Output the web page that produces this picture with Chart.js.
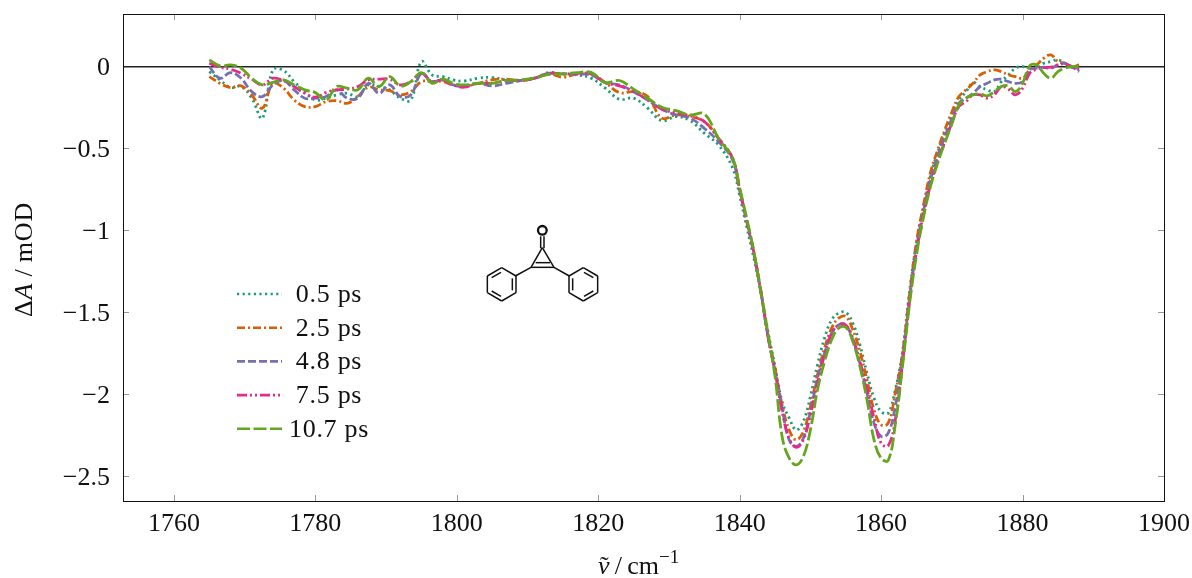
<!DOCTYPE html>
<html>
<head>
<meta charset="utf-8">
<title>Delta A spectra</title>
<script src="https://cdn.jsdelivr.net/npm/chart.js@4/dist/chart.umd.min.js"></script>
<style>
html, body { margin: 0; padding: 0; background: #fff; }
canvas { display: block; }
</style>
</head>
<body>
<canvas id="spectra" width="1192" height="578"></canvas>
<script>
const wavenumbers = [
    1765, 1766.5, 1768, 1769.5, 1771, 1772.5, 1774, 1775.5, 1777, 1778.5, 1780, 1781.5,
    1783, 1784.5, 1786, 1787.5, 1789, 1790.5, 1792, 1793.5, 1795, 1796.5, 1798, 1799.5,
    1801, 1803, 1805, 1807, 1809, 1811, 1813, 1815, 1817, 1819, 1821, 1823, 1825, 1827, 1829, 1831, 1833, 1835, 1837, 1839,
    1840, 1841, 1842,
    1843, 1844, 1845, 1846, 1847, 1848, 1849, 1850, 1851, 1852, 1853, 1854, 1855, 1856, 1857, 1858, 1859, 1860, 1861, 1862, 1863, 1864,
    1865, 1866, 1867, 1868, 1869, 1870,
    1871, 1872, 1873, 1874, 1875, 1876, 1877, 1878, 1879, 1880, 1881, 1882, 1883, 1884, 1885, 1886, 1887, 1888
];

const ps05 = [
    -.032, -.082, -.129, -.123, -.194, -.316, -.021, -.025, -.093, -.154, -.205, -.194,
    -.174, -.164, -.184, -.113, -.123, -.143, -.194, -.205, .03, -.052, -.062, -.082,
    -.089, -.072, -.068, -.082, -.086, -.072, -.038, -.046, -.052, -.072, -.133, -.2, -.194, -.255, -.331, -.306, -.331, -.408, -.479, -.62,
    -.79, -.98, -1.17,
    -1.38, -1.618, -1.832, -2.046, -2.147, -2.219, -2.168, -2.015, -1.822, -1.659, -1.547, -1.506, -1.502, -1.568, -1.7, -1.873, -2.025, -2.107, -2.117, -1.975, -1.751, -1.38,
    -1.08, -.86, -.665, -.525, -.405, -.295,
    -.205, -.154, -.099, -.123, -.143, -.154, -.093, -.052, -.011, -.001, -.011, -.011, .019, .03, .04, .019, -.001, -.032
];
const ps25 = [
    -.062, -.103, -.129, -.119, -.174, -.255, -.103, -.133, -.205, -.245, -.245, -.215,
    -.209, -.225, -.184, -.127, -.143, -.148, -.174, -.154, -.093, -.093, -.093, -.113,
    -.123, -.103, -.082, -.078, -.086, -.072, -.046, -.066, -.046, -.046, -.099, -.16, -.154, -.184, -.316, -.296, -.306, -.337, -.439, -.561,
    -.75, -.94, -1.135,
    -1.374, -1.639, -1.842, -2.066, -2.219, -2.28, -2.229, -2.076, -1.883, -1.72, -1.598, -1.537, -1.527, -1.608, -1.74, -1.913, -2.097, -2.188, -2.178, -1.995, -1.761, -1.4,
    -1.07, -.845, -.644, -.51, -.388, -.278,
    -.184, -.143, -.103, -.052, -.032, -.021, -.032, -.052, -.062, -.072, -.021, .009, .05, .07, .03, .019, -.001, .009
];
const ps48 = [
    -.001, -.072, -.038, -.072, -.154, -.184, -.113, -.086, -.143, -.194, -.194, -.184,
    -.143, -.194, -.194, -.103, -.164, -.113, -.184, -.174, -.042, -.093, -.082, -.113,
    -.123, -.103, -.119, -.103, -.086, -.072, -.042, -.046, -.048, -.052, -.099, -.113, -.154, -.205, -.261, -.296, -.316, -.378, -.459, -.571,
    -.76, -.95, -1.14,
    -1.374, -1.649, -1.863, -2.086, -2.28, -2.32, -2.27, -2.107, -1.903, -1.751, -1.629, -1.578, -1.578, -1.669, -1.812, -1.995, -2.178, -2.259, -2.239, -2.076, -1.791, -1.43,
    -1.11, -.88, -.69, -.55, -.43, -.32,
    -.225, -.194, -.164, -.123, -.103, -.082, -.078, -.093, -.103, -.093, -.021, -.011, -.005, -.011, .009, .019, -.005, -.011
];
const ps75 = [
    .019, -.005, -.017, -.042, -.078, -.113, -.072, -.086, -.123, -.164, -.188, -.16,
    -.143, -.139, -.123, -.082, -.078, -.078, -.113, -.093, -.042, -.093, -.082, -.113,
    -.127, -.103, -.103, -.086, -.086, -.072, -.042, -.046, -.042, -.046, -.099, -.119, -.154, -.205, -.261, -.282, -.302, -.337, -.439, -.561,
    -.75, -.94, -1.135,
    -1.374, -1.649, -1.863, -2.107, -2.27, -2.325, -2.28, -2.127, -1.934, -1.761, -1.629, -1.578, -1.578, -1.659, -1.802, -1.964, -2.147, -2.3, -2.316, -2.158, -1.822, -1.44,
    -1.13, -.905, -.72, -.58, -.46, -.345,
    -.245, -.215, -.174, -.174, -.194, -.174, -.123, -.139, -.174, -.133, -.042, -.017, -.007, -.005, .009, .015, -.005, -.021
];
const ps107 = [
    .04, .003, .009, -.011, -.072, -.113, -.097, -.082, -.113, -.143, -.16, -.205,
    -.123, -.133, -.143, -.072, -.123, -.062, -.119, -.093, -.038, -.103, -.078, -.103,
    -.113, -.103, -.103, -.086, -.082, -.072, -.048, -.046, -.038, -.036, -.099, -.086, -.139, -.194, -.249, -.27, -.296, -.29, -.439, -.561,
    -.74, -.93, -1.127,
    -1.384, -1.629, -1.893, -2.259, -2.392, -2.432, -2.382, -2.219, -1.975, -1.802, -1.669, -1.598, -1.592, -1.679, -1.832, -2.035, -2.28, -2.392, -2.406, -2.188, -1.842, -1.456,
    -1.15, -.919, -.73, -.59, -.467, -.351,
    -.235, -.194, -.174, -.168, -.18, -.154, -.123, -.119, -.154, -.103, .003, .009, -.042, -.072, -.032, -.011, -.001, -.001
];

const seriesNames = ['0.5 ps', '2.5 ps', '4.8 ps', '7.5 ps', '10.7 ps'];
const seriesValues = [ps05, ps25, ps48, ps75, ps107];
const seriesColors = ['#1b9e77', '#d95f02', '#7570b3', '#e7298a', '#66a61e'];
const seriesDashes = [[2.2, 3.4], [8, 3, 2, 3], [8, 3], [10, 3, 2, 3, 2, 3], [13, 3.5]];

const FONT = '"Liberation Serif", serif';

function fmt(v) {
    return String(v).replace('-', '\u2212');
}

// pgfplots style frame: black box, short grey ticks pointing inwards
const framePlugin = {
    id: 'frame',
    afterDatasetsDraw(chart) {
        const { ctx, chartArea: a, scales } = chart;
        ctx.save();
        ctx.strokeStyle = '#999';
        ctx.lineWidth = 1;
        ctx.beginPath();
        scales.x.ticks.forEach(t => {
            const x = Math.round(scales.x.getPixelForValue(t.value)) + 0.5;
            ctx.moveTo(x, a.top); ctx.lineTo(x, a.top + 6);
            ctx.moveTo(x, a.bottom); ctx.lineTo(x, a.bottom - 6);
        });
        scales.y.ticks.forEach(t => {
            if (t.value === 0) return; // the zero line already runs across
            const y = Math.round(scales.y.getPixelForValue(t.value)) + 0.5;
            ctx.moveTo(a.left, y); ctx.lineTo(a.left + 6, y);
            ctx.moveTo(a.right, y); ctx.lineTo(a.right - 6, y);
        });
        ctx.stroke();
        ctx.strokeStyle = '#111';
        ctx.strokeRect(a.left + 0.5, a.top + 0.5, a.right - a.left, a.bottom - a.top);
        ctx.restore();
    }
};

// legend by hand: it sits inside the axes and has centred labels
const legendPlugin = {
    id: 'insideLegend',
    afterDraw(chart) {
        const ctx = chart.ctx;
        ctx.save();
        seriesNames.forEach((name, i) => {
            const y = 294 + i * 33.7;
            ctx.strokeStyle = seriesColors[i];
            ctx.lineWidth = 2.6;
            ctx.setLineDash(seriesDashes[i]);
            ctx.beginPath();
            ctx.moveTo(237, y);
            ctx.lineTo(282, y);
            ctx.stroke();
            ctx.setLineDash([]);
            ctx.fillStyle = '#111';
            ctx.font = '26px ' + FONT;
            ctx.letterSpacing = '0.7px';
            ctx.textAlign = 'center';
            ctx.textBaseline = 'alphabetic';
            ctx.fillText(name, 329, y + 8);
        });
        ctx.restore();
    }
};

function runs(ctx, x, y, parts) {
    parts.forEach(p => {
        ctx.font = p[1] + ' ' + FONT;
        ctx.fillText(p[0], x, y + (p[2] || 0));
        x += ctx.measureText(p[0]).width;
    });
}

const titlesPlugin = {
    id: 'axisTitles',
    afterDraw(chart) {
        const ctx = chart.ctx;
        ctx.save();
        ctx.fillStyle = '#111';
        ctx.textAlign = 'left';
        ctx.textBaseline = 'alphabetic';
        runs(ctx, 598, 574, [['\u03BD', 'italic 26px'], ['\u2009/\u2009cm', '26px'], ['\u22121', '19px', -11]]);
        ctx.font = '26px ' + FONT;
        ctx.fillText('\u02DC', 600, 574);
        ctx.translate(32, 317);
        ctx.rotate(-Math.PI / 2);
        ctx.letterSpacing = '0.9px';
        runs(ctx, 0, 0, [['\u0394', '26px'], ['A', 'italic 26px'], ['\u2009/\u2009mOD', '26px']]);
        ctx.restore();
    }
};

// diphenylcyclopropenone sketch
const moleculePlugin = {
    id: 'molecule',
    afterDraw(chart) {
        const ctx = chart.ctx;
        ctx.save();
        ctx.translate(470, 215);
        ctx.scale(1 / 3, 1 / 3);
        ctx.strokeStyle = '#111';
        ctx.lineWidth = 4.5;
        const seg = (x1, y1, x2, y2) => {
            ctx.beginPath(); ctx.moveTo(x1, y1); ctx.lineTo(x2, y2); ctx.stroke();
        };
        ctx.beginPath(); ctx.arc(217, 46, 13, 0, Math.PI * 2); ctx.lineWidth = 7; ctx.stroke(); ctx.lineWidth = 4.5;
        seg(212, 64, 212, 100); seg(222, 64, 222, 100);
        seg(217, 98, 183, 157); seg(217, 98, 252, 157); seg(183, 157, 252, 157);
        seg(197, 143, 240, 143);
        seg(183, 157, 136, 183); seg(252, 157, 298, 183);
        const ring = (cx, flip) => {
            const v = [[0, -50], [43, -25], [43, 25], [0, 50], [-43, 25], [-43, -25]];
            v.forEach((p, i) => {
                const q = v[(i + 1) % 6];
                seg(cx + p[0] * flip, 208 + p[1], cx + q[0] * flip, 208 + q[1]);
            });
            seg(cx + 32 * flip, 190, cx + 32 * flip, 226);
            seg(cx - 30 * flip, 188, cx - 2 * flip, 172);
            seg(cx - 30 * flip, 228, cx - 2 * flip, 244);
        };
        ring(95, 1);
        ring(340, -1);
        ctx.restore();
    }
};

new Chart(document.getElementById('spectra').getContext('2d'), {
    type: 'line',
    data: {
        datasets: seriesNames.map((name, i) => ({
            label: name,
            data: wavenumbers.map((x, k) => ({ x: x, y: seriesValues[i][k] })),
            borderColor: seriesColors[i],
            borderDash: seriesDashes[i],
            borderWidth: 2.8,
            pointRadius: 0,
            fill: false,
            tension: 0.4,
            order: seriesNames.length - i
        }))
    },
    options: {
        responsive: false,
        animation: false,
        layout: { padding: { left: 0, top: 14, right: 28, bottom: 0 } },
        plugins: {
            legend: { display: false },
            tooltip: { enabled: false }
        },
        scales: {
            x: {
                type: 'linear',
                min: 1752.8,
                max: 1900,
                afterFit: s => { s.height = 77; s.paddingLeft = 0; s.paddingRight = 0; },
                grid: { display: false, drawTicks: false, tickLength: 0 },
                border: { display: false },
                ticks: {
                    stepSize: 20,
                    includeBounds: false,
                    maxRotation: 0,
                    padding: 8,
                    color: '#111',
                    font: { family: FONT, size: 26 },
                    callback: v => String(v)
                }
            },
            y: {
                type: 'linear',
                min: -2.653,
                max: 0.32,
                afterFit: s => { s.width = 123; s.paddingTop = 0; s.paddingBottom = 0; },
                grid: {
                    drawTicks: false,
                    color: c => (c.tick && c.tick.value === 0 ? '#222' : 'rgba(0,0,0,0)'),
                    lineWidth: 1.4
                },
                border: { display: false },
                ticks: {
                    stepSize: 0.5,
                    includeBounds: false,
                    padding: 13,
                    labelOffset: 2,
                    color: '#111',
                    font: { family: FONT, size: 26 },
                    callback: v => fmt(v)
                }
            }
        }
    },
    plugins: [framePlugin, legendPlugin, titlesPlugin, moleculePlugin]
});
</script>
</body>
</html>
